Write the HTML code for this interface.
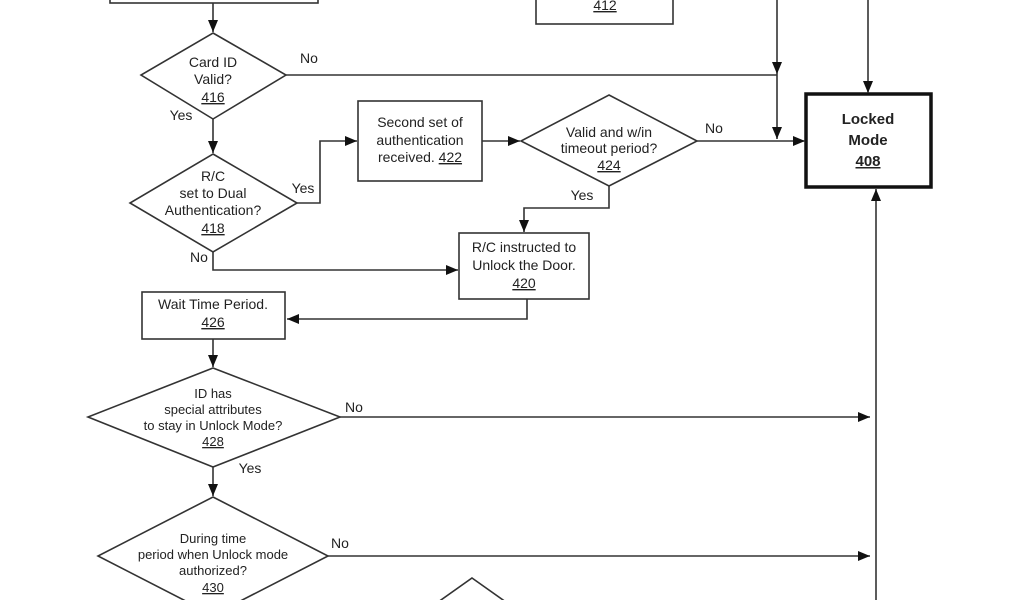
<!DOCTYPE html>
<html><head><meta charset="utf-8"><style>
html,body{margin:0;padding:0;background:#fff;width:1024px;height:600px;overflow:hidden}
svg{display:block;overflow:hidden}
text{font-family:"Liberation Sans",Arial,sans-serif;font-size:14px;fill:#222;text-anchor:middle}
.u{text-decoration:underline}
</style></head><body>
<svg width="1024" height="600" viewBox="0 0 1024 600" xmlns="http://www.w3.org/2000/svg">
<defs><marker id="a" markerWidth="12" markerHeight="10" refX="12" refY="5" orient="auto" markerUnits="userSpaceOnUse"><path d="M0,0 L12,5 L0,10 z" fill="#111"/></marker>
<clipPath id="c"><rect x="0" y="0" width="1024" height="600"/></clipPath></defs>
<g clip-path="url(#c)">
<g fill="none" stroke="#333" stroke-width="1.6">
<rect x="110" y="-10" width="208" height="13"/>
<rect x="536" y="-10" width="137" height="34"/>
<rect x="806" y="94" width="125" height="93" stroke-width="3.5" stroke="#111"/>
<polygon points="213,33 286,75 213,119 141,75"/>
<polygon points="213,154 297,203 213,252 130,203"/>
<rect x="358" y="101" width="124" height="80"/>
<polygon points="609,95 697,141 609,186 521,141"/>
<rect x="459" y="233" width="130" height="66"/>
<rect x="142" y="292" width="143" height="47"/>
<polygon points="213,368 340,417 213,467 88,417"/>
<polygon points="213,497 328,556 213,615 98,556"/>
<polygon points="472,578 520,612 472,646 424,612"/>
<path d="M213,3 V32" marker-end="url(#a)"/>
<path d="M286,75 H777"/>
<path d="M777,0 V74" marker-end="url(#a)"/>
<path d="M777,74 V139" marker-end="url(#a)"/>
<path d="M868,0 V93" marker-end="url(#a)"/>
<path d="M213,119 V153" marker-end="url(#a)"/>
<path d="M297,203 H320 V141 H357" marker-end="url(#a)"/>
<path d="M482,141 H520" marker-end="url(#a)"/>
<path d="M697,141 H805" marker-end="url(#a)"/>
<path d="M609,186 V208 H524 V232" marker-end="url(#a)"/>
<path d="M213,252 V270 H458" marker-end="url(#a)"/>
<path d="M527,299 V319 H287" marker-end="url(#a)"/>
<path d="M213,339 V367" marker-end="url(#a)"/>
<path d="M340,417 H870" marker-end="url(#a)"/>
<path d="M213,467 V496" marker-end="url(#a)"/>
<path d="M328,556 H870" marker-end="url(#a)"/>
<path d="M876,600 V189" marker-end="url(#a)"/>
</g>
</g>
<text x="605" y="10" class="u">412</text>
<text x="213" y="67">Card ID</text><text x="213" y="84">Valid?</text><text x="213" y="102" class="u">416</text>
<text x="309" y="63">No</text><text x="181" y="120">Yes</text>
<text x="213" y="181">R/C</text><text x="213" y="198">set to Dual</text><text x="213" y="215">Authentication?</text><text x="213" y="233" class="u">418</text>
<text x="303" y="193">Yes</text><text x="199" y="262">No</text>
<text x="420" y="127">Second set of</text><text x="420" y="145">authentication</text><text x="420" y="162">received.  <tspan class="u">422</tspan></text>
<text x="609" y="137">Valid and w/in</text><text x="609" y="153">timeout period?</text><text x="609" y="170" class="u">424</text>
<text x="714" y="133">No</text><text x="582" y="200">Yes</text>
<text x="868" y="124" style="font-weight:bold;font-size:15px">Locked</text><text x="868" y="145" style="font-weight:bold;font-size:15px">Mode</text><text x="868" y="166" class="u" style="font-weight:bold;font-size:15px">408</text>
<text x="524" y="252">R/C instructed to</text><text x="524" y="270">Unlock the Door.</text><text x="524" y="288" class="u">420</text>
<text x="213" y="309">Wait Time Period.</text><text x="213" y="327" class="u">426</text>
<text x="213" y="398" style="font-size:13px">ID has</text><text x="213" y="414" style="font-size:13px">special attributes</text><text x="213" y="430" style="font-size:13px">to stay in Unlock Mode?</text><text x="213" y="446" class="u" style="font-size:13px">428</text>
<text x="354" y="412">No</text><text x="250" y="473">Yes</text>
<text x="213" y="543" style="font-size:13px">During time</text><text x="213" y="559" style="font-size:13px">period when Unlock mode</text><text x="213" y="575" style="font-size:13px">authorized?</text><text x="213" y="592" class="u" style="font-size:13px">430</text>
<text x="340" y="548">No</text>
</svg>
</body></html>
